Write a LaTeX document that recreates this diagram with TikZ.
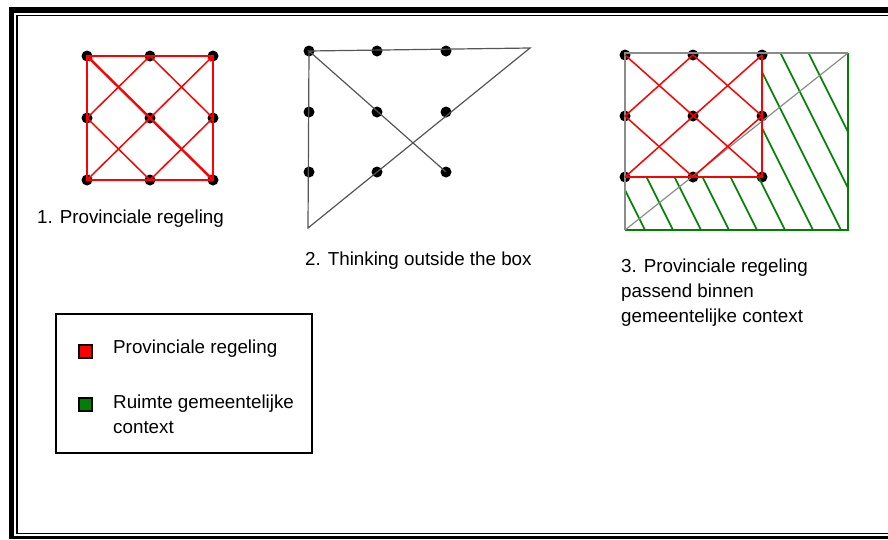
\documentclass[tikz,border=0pt]{standalone}
\usepackage{fontspec}
\setmainfont{Liberation Sans}
\usetikzlibrary{positioning,arrows.meta}

\definecolor{regelred}{RGB}{255,0,0}
\definecolor{ruimtegreen}{RGB}{0,128,0}
\definecolor{solgray}{RGB}{85,85,85}
\definecolor{boxgray}{RGB}{140,140,140}

\begin{document}
\begin{tikzpicture}[x=1pt, y=-1pt,
  dot/.style={circle, fill=black, inner sep=0pt, minimum size=11pt},
  label text/.style={font=\fontsize{18.8}{25}\selectfont, inner sep=0pt, anchor=base west, align=left},
  prov/.style={draw=regelred, line width=1.5pt},
  prov edge/.style={draw=regelred, line width=2.4pt},
  outside/.style={draw=solgray, line width=1.2pt},
  ruimte/.style={draw=ruimtegreen, line width=1.6pt},
  legend key/.style={draw=black, line width=2pt, minimum size=13pt, inner sep=0pt}]

  \useasboundingbox (0,0) rectangle (888,539);

  % frame
  \draw[line width=5.4pt] (888,10) -- (9,10);
  \draw[line width=5.4pt] (11.7,7.3) -- (11.7,539);
  \draw[line width=3pt] (9,537.2) -- (888,537.2);
  \draw[line width=1.5pt] (888,15.7) -- (17.2,15.7) -- (17.2,533.7) -- (888,533.7);

  % 1. provinciale regeling
  \foreach \c/\x in {1/87,2/150,3/213}
    \foreach \r/\y in {1/56,2/118,3/180}
      \node[dot] (a \r\c) at (\x,\y) {};
  \draw[prov edge] (a 11.center) rectangle (a 33.center);
  \draw[prov edge, {Stealth[length=6pt]}-{Stealth[length=6pt]}] (a 11.center) -- (a 33.center);
  \draw[prov, {Stealth[length=6pt]}-{Stealth[length=6pt]}] (a 31.center) -- (a 13.center);
  \draw[prov] (a 12.center) -- (a 21.center) -- (a 32.center) -- (a 23.center) -- cycle;
  \node[label text] (title a) at (37,223) {1. Provinciale regeling};

  % 2. thinking outside the box
  \foreach \c/\x in {1/309,2/377,3/446}
    \foreach \r/\y in {1/51,2/112,3/172}
      \node[dot] (b \r\c) at (\x,\y) {};
  \coordinate (b top) at (530,48);
  \coordinate (b low) at (308,228);
  \draw[outside] (b 33.center) -- (b 11.center) -- (b top) -- (b low) -- (b 11.center);
  \node[label text] (title b) at (305,265) {2. Thinking outside the box};

  % 3. passend binnen gemeentelijke context
  \coordinate (c nw) at (625,53);
  \coordinate (c ne) at (848,53);
  \coordinate (c se) at (848,230);
  \coordinate (c sw) at (625,230);
  \foreach \c/\x in {1/625,2/693,3/762}
    \foreach \r/\y in {1/55,2/116,3/177}
      \node[dot] (c \r\c) at (\x,\y) {};
  \begin{scope}[even odd rule]
    \clip (c nw) rectangle (c se) (c nw) rectangle (c 33.center);
    \foreach \k in {530,558,...,782}
      \draw[ruimte] (\k,0) -- (\k+120,240);
  \end{scope}
  \draw[ruimte] (c ne) -- (c se) -- (c sw);
  \draw[draw=boxgray, line width=1.4pt] (c sw) -- (c nw) -- (c ne);
  \draw[outside, draw=boxgray] (c sw) -- (c ne);
  \draw[prov] (c 13.center) -- (c 33.center) -- (c 31.center);
  \draw[prov] (c 11.center) -- (c 33.center);
  \draw[prov] (c 31.center) -- (c 13.center);
  \draw[prov] (c 12.center) -- (c 21.center) -- (c 32.center) -- (c 23.center) -- cycle;
  \node[label text] (title c) at (621,322) {3. Provinciale regeling\\passend binnen\\gemeentelijke context};

  % legend
  \node[draw, line width=1.5pt, minimum width=256pt, minimum height=139pt, inner sep=0pt, anchor=north west] (legend) at (55,313) {};
  \node[legend key, fill=regelred] (key prov) at (85.5,351) {};
  \node[legend key, fill=ruimtegreen] (key ruimte) at (85.5,404) {};
  \node[label text] (key prov text) at (113,353) {Provinciale regeling};
  \node[label text] (key ruimte text) at (113,433) {Ruimte gemeentelijke\\context};
\end{tikzpicture}
\end{document}
